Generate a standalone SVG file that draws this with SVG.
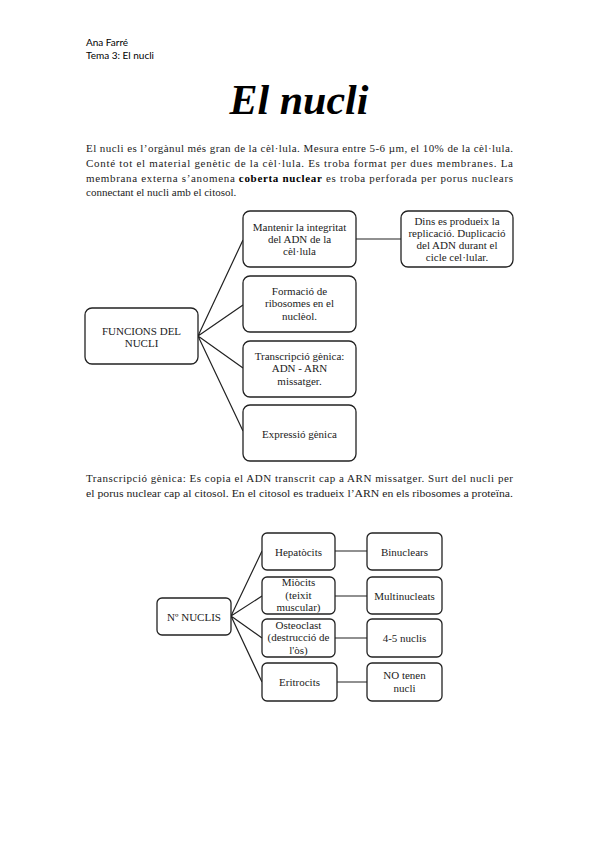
<svg xmlns="http://www.w3.org/2000/svg" width="599" height="848" viewBox="0 0 599 848">
<style>
.hdr{font-family:Lato,"Open Sans",sans-serif;font-size:10px;fill:#000}
.title{font-family:"Liberation Serif",serif;font-style:italic;font-weight:bold;font-size:42px;fill:#000}
.p{font-family:"Liberation Serif",serif;font-size:11px;fill:#222}
.box{fill:#fff;stroke:#222;stroke-width:1.3}
.t{font-family:"Liberation Serif",serif;font-size:11px;fill:#222;text-anchor:middle}
.c{stroke:#222;stroke-width:1.2;fill:none}
</style>
<rect width="599" height="848" fill="#fff"/>
<text class="hdr" x="86" y="46">Ana Farré</text>
<text class="hdr" x="86" y="59">Tema 3: El nucli</text>
<text class="title" x="299" y="114" text-anchor="middle">El nucli</text>

<text class="p" x="86" y="152" textLength="427" lengthAdjust="spacing">El nucli es l’orgànul més gran de la cèl·lula. Mesura entre 5-6 µm, el 10% de la cèl·lula.</text>
<text class="p" x="86" y="167" textLength="427" lengthAdjust="spacing">Conté tot el material genètic de la cèl·lula. Es troba format per dues membranes. La</text>
<text class="p" x="86" y="182" textLength="427" lengthAdjust="spacing">membrana externa s’anomena <tspan font-weight="bold" fill="#000">coberta nuclear</tspan> es troba perforada per porus nuclears</text>
<text class="p" x="86" y="196">connectant el nucli amb el citosol.</text>

<g id="connectors">
<path class="c" d="M198 336 L243 240 M198 336 L243 305 M198 336 L243 368 M198 336 L243 431 M356 239 L401 239"/>
<path class="c" d="M231 616 L262 551 M231 616 L262 596 M231 616 L262 638 M231 616 L262 682 M335 551 L367 551 M335 596 L367 596 M335 638 L367 638 M337 682 L367 682"/>
</g>

<g id="funcions"><rect class="box" x="85" y="308" width="113" height="56" rx="7"/>
<text class="t" x="141.5" y="335">FUNCIONS DEL</text><text class="t" x="141.5" y="347">NUCLI</text></g>
<g id="mantenir"><rect class="box" x="243" y="211" width="113" height="56" rx="7"/>
<text class="t" x="299.5" y="231">Mantenir la integritat</text><text class="t" x="299.5" y="243">del ADN de la</text><text class="t" x="299.5" y="255">cèl·lula</text></g>
<g id="dins"><rect class="box" x="401" y="211" width="112" height="56" rx="7"/>
<text class="t" x="457" y="225">Dins es produeix la</text><text class="t" x="457" y="237">replicació. Duplicació</text><text class="t" x="457" y="249">del ADN durant el</text><text class="t" x="457" y="261">cicle cel·lular.</text></g>
<g id="formacio"><rect class="box" x="243" y="276" width="113" height="56" rx="7"/>
<text class="t" x="299.5" y="295">Formació de</text><text class="t" x="299.5" y="307">ribosomes en el</text><text class="t" x="299.5" y="320">nuclèol.</text></g>
<g id="transcripcio"><rect class="box" x="243" y="341" width="113" height="56" rx="7"/>
<text class="t" x="299.5" y="360">Transcripció gènica:</text><text class="t" x="299.5" y="372">ADN - ARN</text><text class="t" x="299.5" y="385">missatger.</text></g>
<g id="expressio"><rect class="box" x="243" y="405" width="113" height="56" rx="7"/>
<text class="t" x="299.5" y="438">Expressió gènica</text></g>

<text class="p" x="86" y="482" textLength="427" lengthAdjust="spacing">Transcripció gènica: Es copia el ADN transcrit cap a ARN missatger. Surt del nucli per</text>
<text class="p" x="86" y="497" textLength="427" lengthAdjust="spacingAndGlyphs" fill="#000">el porus nuclear cap al citosol. En el citosol es tradueix l’ARN en els ribosomes a proteïna.</text>

<g id="nuclis"><rect class="box" x="157" y="598" width="74" height="37" rx="5"/>
<text class="t" x="194" y="621">Nº NUCLIS</text></g>
<g id="hepatocits"><rect class="box" x="262" y="533" width="73" height="37" rx="5"/>
<text class="t" x="298.5" y="556">Hepatòcits</text></g>
<g id="binuclears"><rect class="box" x="367" y="533" width="75" height="37" rx="5"/>
<text class="t" x="404.5" y="556">Binuclears</text></g>
<g id="miocits"><rect class="box" x="262" y="577" width="73" height="37" rx="5"/>
<text class="t" x="298.5" y="586">Miòcits</text><text class="t" x="298.5" y="599">(teixit</text><text class="t" x="298.5" y="611">muscular)</text></g>
<g id="multinucleats"><rect class="box" x="367" y="577" width="75" height="37" rx="5"/>
<text class="t" x="404.5" y="600">Multinucleats</text></g>
<g id="osteoclast"><rect class="box" x="262" y="619" width="73" height="38" rx="5"/>
<text class="t" x="298.5" y="629">Osteoclast</text><text class="t" x="298.5" y="641">(destrucció de</text><text class="t" x="298.5" y="654">l'òs)</text></g>
<g id="nuclis45"><rect class="box" x="367" y="619" width="75" height="38" rx="5"/>
<text class="t" x="404.5" y="642">4-5 nuclis</text></g>
<g id="eritrocits"><rect class="box" x="262" y="663" width="75" height="38" rx="5"/>
<text class="t" x="299.5" y="686">Eritrocits</text></g>
<g id="notenen"><rect class="box" x="367" y="663" width="75" height="38" rx="5"/>
<text class="t" x="404.5" y="679">NO tenen</text><text class="t" x="404.5" y="692">nucli</text></g>
</svg>
